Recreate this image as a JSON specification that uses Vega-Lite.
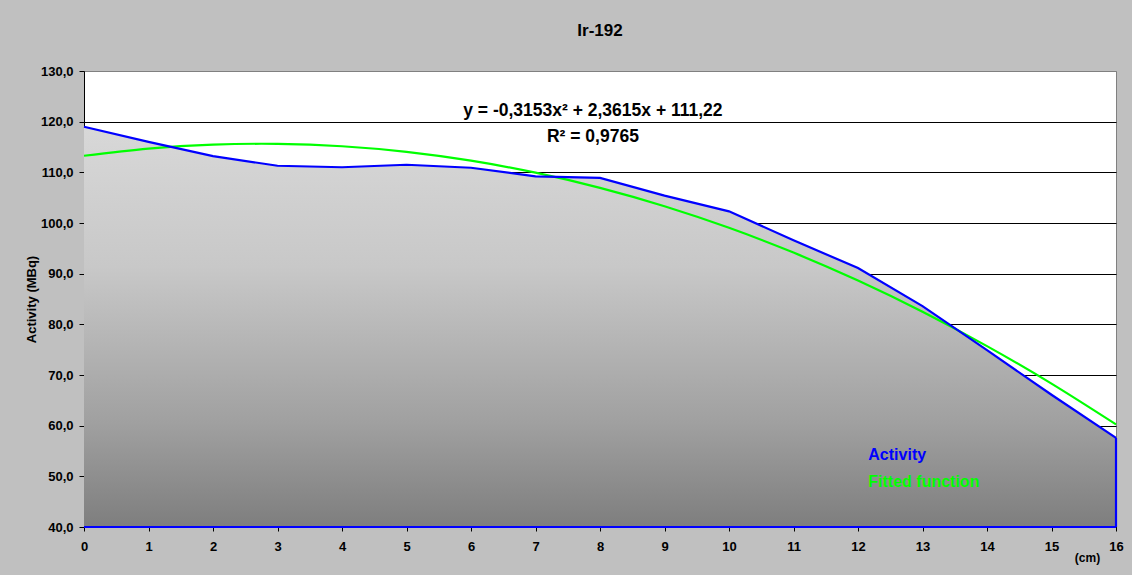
{
  "$schema": "https://vega.github.io/schema/vega-lite/v6.json",
  "width": 1032,
  "height": 456,
  "autosize": {"type": "none"},
  "padding": {"left": 84, "top": 71, "right": 16, "bottom": 48},
  "background": "#c0c0c0",
  "title": {
    "text": "Ir-192",
    "anchor": "middle",
    "frame": "group",
    "baseline": "alphabetic",
    "offset": 12,
    "font": "Liberation Sans",
    "fontSize": 17,
    "fontWeight": "bold",
    "color": "#000000"
  },
  "config": {
    "locale": {
      "number": {"decimal": ",", "thousands": ".", "grouping": [3], "currency": ["", " €"]}
    },
    "view": {"fill": "#ffffff", "stroke": "#808080", "strokeWidth": 1},
    "axis": {
      "labelFont": "Liberation Sans",
      "labelFontSize": 13,
      "labelFontWeight": "bold",
      "labelColor": "#000000",
      "titleFont": "Liberation Sans",
      "titleFontWeight": "bold",
      "titleColor": "#000000",
      "domainColor": "#000000",
      "tickColor": "#000000"
    }
  },
  "datasets": {
    "main": [
      {"cm": 0, "activity": 119.0, "fitted": 113.27},
      {"cm": 1, "activity": 116.0, "fitted": 114.68},
      {"cm": 2, "activity": 113.2, "fitted": 115.47},
      {"cm": 3, "activity": 111.3, "fitted": 115.62},
      {"cm": 4, "activity": 111.0, "fitted": 115.15},
      {"cm": 5, "activity": 111.5, "fitted": 114.04},
      {"cm": 6, "activity": 110.9, "fitted": 112.30},
      {"cm": 7, "activity": 109.2, "fitted": 109.93},
      {"cm": 8, "activity": 108.9, "fitted": 106.93},
      {"cm": 9, "activity": 105.4, "fitted": 103.31},
      {"cm": 10, "activity": 102.3, "fitted": 99.05},
      {"cm": 11, "activity": 96.6, "fitted": 94.16},
      {"cm": 12, "activity": 91.1, "fitted": 88.63},
      {"cm": 13, "activity": 83.6, "fitted": 82.48},
      {"cm": 14, "activity": 74.9, "fitted": 75.70},
      {"cm": 15, "activity": 66.1, "fitted": 68.29},
      {"cm": 16, "activity": 57.6, "fitted": 60.24}
    ],
    "labels": [
      {"name": "equation", "text": "y = -0,3153x² + 2,3615x + 111,22"},
      {"name": "r2", "text": "R² = 0,9765"},
      {"name": "activity", "text": "Activity"},
      {"name": "fitted", "text": "Fitted function"}
    ]
  },
  "layer": [
    {
      "data": {"name": "main"},
      "mark": {
        "type": "area",
        "color": {
          "gradient": "linear",
          "x1": 0, "y1": 0, "x2": 0, "y2": 1,
          "stops": [
            {"offset": 0, "color": "#d8d8d8"},
            {"offset": 0.35, "color": "#c8c8c8"},
            {"offset": 0.74, "color": "#a0a0a0"},
            {"offset": 1, "color": "#7e7e7e"}
          ]
        }
      },
      "encoding": {
        "x": {
          "field": "cm",
          "type": "quantitative",
          "scale": {"domain": [0, 16], "nice": false, "zero": false},
          "axis": {
            "title": "(cm)",
            "titleFontSize": 12,
            "titleX": 1003,
            "titleY": 34,
            "titleAlign": "center",
            "titleBaseline": "alphabetic",
            "values": [0, 1, 2, 3, 4, 5, 6, 7, 8, 9, 10, 11, 12, 13, 14, 15, 16],
            "format": "d",
            "grid": false,
            "tickSize": 4,
            "labelPadding": 9,
            "labelFlush": false,
            "labelOverlap": false
          }
        },
        "y": {
          "field": "activity",
          "type": "quantitative",
          "scale": {"domain": [40, 130], "nice": false, "zero": false},
          "axis": {
            "title": "Activity (MBq)",
            "titleFontSize": 13,
            "titleX": -53,
            "titleBaseline": "middle",
            "values": [40, 50, 60, 70, 80, 90, 100, 110, 120, 130],
            "format": ".1f",
            "grid": true,
            "gridColor": {"condition": {"test": "datum.value == 130", "value": "#808080"}, "value": "#000000"},
            "gridWidth": 1,
            "tickSize": 5,
            "labelPadding": 6
          }
        },
        "y2": {"datum": 40}
      }
    },
    {
      "data": {"name": "main"},
      "mark": {"type": "line", "color": "#00ff00", "strokeWidth": 2.2, "interpolate": "natural"},
      "encoding": {
        "x": {"field": "cm", "type": "quantitative"},
        "y": {"field": "fitted", "type": "quantitative"}
      }
    },
    {
      "data": {"name": "main"},
      "mark": {"type": "line", "color": "#0000ff", "strokeWidth": 2.2},
      "encoding": {
        "x": {"field": "cm", "type": "quantitative"},
        "y": {"field": "activity", "type": "quantitative"}
      }
    },
    {
      "data": {"name": "main"},
      "transform": [{"filter": "datum.cm == 16"}],
      "mark": {"type": "rule", "color": "#0000ff", "strokeWidth": 2.2},
      "encoding": {
        "x": {"field": "cm", "type": "quantitative"},
        "y": {"field": "activity", "type": "quantitative"},
        "y2": {"datum": 40}
      }
    },
    {
      "data": {"name": "main"},
      "transform": [{"filter": "datum.cm == 16"}],
      "mark": {"type": "rule", "color": "#0000ff", "strokeWidth": 2.2},
      "encoding": {
        "x": {"datum": 0, "type": "quantitative"},
        "x2": {"datum": 16},
        "y": {"datum": 40, "type": "quantitative"}
      }
    },
    {
      "data": {"name": "labels"},
      "transform": [{"filter": "datum.name == 'equation'"}],
      "mark": {"type": "text", "font": "Liberation Sans", "fontSize": 17.5, "fontWeight": "bold", "color": "#000000", "align": "center", "baseline": "alphabetic"},
      "encoding": {"x": {"datum": 7.89, "type": "quantitative"}, "y": {"datum": 121.1, "type": "quantitative"}, "text": {"field": "text"}}
    },
    {
      "data": {"name": "labels"},
      "transform": [{"filter": "datum.name == 'r2'"}],
      "mark": {"type": "text", "font": "Liberation Sans", "fontSize": 17.5, "fontWeight": "bold", "color": "#000000", "align": "center", "baseline": "alphabetic"},
      "encoding": {"x": {"datum": 7.89, "type": "quantitative"}, "y": {"datum": 116.05, "type": "quantitative"}, "text": {"field": "text"}}
    },
    {
      "data": {"name": "labels"},
      "transform": [{"filter": "datum.name == 'activity'"}],
      "mark": {"type": "text", "font": "Liberation Sans", "fontSize": 16, "fontWeight": "bold", "color": "#0000ff", "align": "left", "baseline": "alphabetic"},
      "encoding": {"x": {"datum": 12.16, "type": "quantitative"}, "y": {"datum": 53.2, "type": "quantitative"}, "text": {"field": "text"}}
    },
    {
      "data": {"name": "labels"},
      "transform": [{"filter": "datum.name == 'fitted'"}],
      "mark": {"type": "text", "font": "Liberation Sans", "fontSize": 16, "fontWeight": "bold", "color": "#00ff00", "align": "left", "baseline": "alphabetic"},
      "encoding": {"x": {"datum": 12.16, "type": "quantitative"}, "y": {"datum": 47.8, "type": "quantitative"}, "text": {"field": "text"}}
    }
  ]
}
